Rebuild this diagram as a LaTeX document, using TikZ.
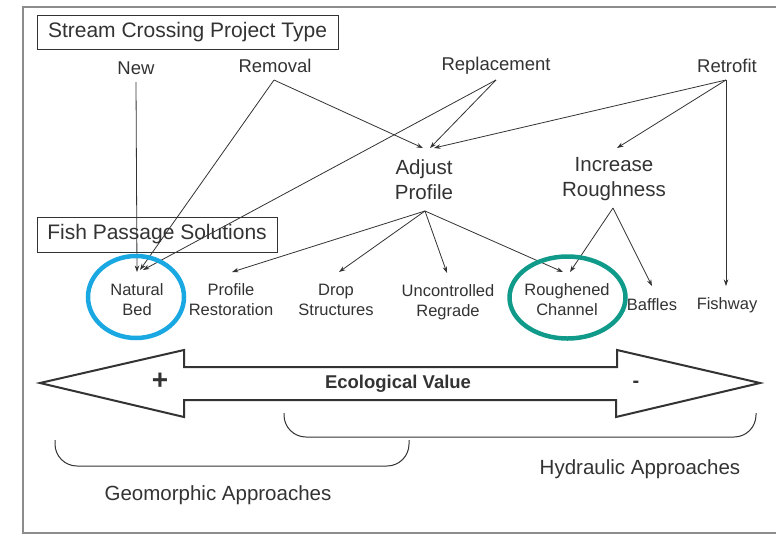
\documentclass[tikz,border=0pt]{standalone}
\usepackage{fontspec}
\setmainfont{Liberation Sans}
\usetikzlibrary{arrows.meta}
\definecolor{ink}{HTML}{333333}
\definecolor{frame}{HTML}{8C8C8C}
\definecolor{ringblue}{HTML}{1AA8E2}
\definecolor{ringteal}{HTML}{0F9A8A}
\begin{document}
\begin{tikzpicture}[x=1pt,y=-1pt,
  every node/.style={text=ink, inner sep=0pt},
  kind/.style={font=\fontsize{18.5}{20}\selectfont},
  stage/.style={font=\fontsize{20.5}{25}\selectfont, align=center},
  fix/.style={font=\fontsize{16.5}{20}\selectfont, align=center},
  heading/.style={draw=ink, line width=0.9pt, font=\fontsize{21}{24}\selectfont},
  link/.style={draw=ink, line width=0.8pt, -{Stealth[length=6.5pt,width=4.5pt]}},
  ring/.style={line width=4.5pt},
  approach/.style={font=\fontsize{20.5}{24}\selectfont}
]
\useasboundingbox (0,0) rectangle (776,536);
\fill[white] (0,0) rectangle (776,536);

% outer frame
\draw[frame, line width=1.6pt] (780,7) -- (23,7) -- (23,533) -- (780,533);

% headings
\node[heading, minimum width=301pt, minimum height=34pt] (hdtop) at (187.5,32) {Stream Crossing Project Type};
\node[heading, minimum width=240pt, minimum height=35pt] (hdfish) at (157,234.5) {Fish Passage Solutions};

% project types
\node[kind] (new) at (136,68) {New};
\node[kind] (rem) at (275,66) {Removal};
\node[kind] (rep) at (496,66) {Replacement};
\node[kind] (ret) at (727,66) {Retrofit};

% intermediate measures
\node[stage] (adj) at (424,179.5) {Adjust\\Profile};
\node[stage] (inc) at (614,179.5) {Increase\\Roughness};

% solutions
\node[fix] (nat) at (137,300) {Natural\\Bed};
\node[fix] (pro) at (231,300) {Profile\\Restoration};
\node[fix] (drop) at (336,300) {Drop\\Structures};
\node[fix] (unc) at (448,302) {Uncontrolled\\Regrade};
\node[fix] (rough) at (567,300) {Roughened\\Channel};
\node[fix] (baf) at (652,305) {Baffles};
\node[fix] (fish) at (727,305) {Fishway};

% connector anchor points
\coordinate (newO) at (136,82);
\coordinate (remO) at (274,80);
\coordinate (repO) at (496,80);
\coordinate (retO) at (726,80);
\coordinate (adjI1) at (423,148);
\coordinate (adjI2) at (430,148);
\coordinate (adjI3) at (434,148);
\coordinate (incI) at (617,148);
\coordinate (adjO) at (425,211);
\coordinate (incO) at (613,208);
\coordinate (natI1) at (137,272);
\coordinate (natI2) at (140,270);
\coordinate (natI3) at (143,270);
\coordinate (proI) at (232,272);
\coordinate (dropI) at (339,272);
\coordinate (uncI) at (447,273);
\coordinate (roughI1) at (563,272);
\coordinate (roughI2) at (570,272);
\coordinate (bafI) at (652,286);
\coordinate (fishI) at (726,286);

% connectors from project types
\draw[link] (newO) -- (natI1);
\draw[link] (remO) -- (natI2);
\draw[link] (remO) -- (adjI1);
\draw[link] (repO) -- (adjI2);
\draw[link] (repO) -- (natI3);
\draw[link] (retO) -- (adjI3);
\draw[link] (retO) -- (incI);
\draw[link] (retO) -- (fishI);

% connectors to solutions
\draw[link] (adjO) -- (proI);
\draw[link] (adjO) -- (dropI);
\draw[link] (adjO) -- (uncI);
\draw[link] (adjO) -- (roughI1);
\draw[link] (incO) -- (roughI2);
\draw[link] (incO) -- (bafI);

% highlight rings
\draw[ringblue, ring] (136,297) ellipse [x radius=48pt, y radius=41pt];
\draw[ringteal, ring] (567.5,297.5) ellipse [x radius=58pt, y radius=41pt];

% ecological value double arrow
\draw[ink, line width=2pt, line join=miter] (40,383) -- (184,350) -- (184,367) -- (617,367) -- (617,350)
  -- (760,383) -- (616,417) -- (616,400) -- (184,400) -- (184,417) -- cycle;
\node[font=\fontsize{28}{28}\selectfont\bfseries] (plus) at (160,381) {+};
\node[font=\fontsize{18.5}{20}\selectfont\bfseries] (eco) at (398,384) {Ecological Value};
\node[font=\fontsize{20}{20}\selectfont\bfseries] (minus) at (636,384) {-};

% approach brackets
\draw[ink, line width=1pt, rounded corners=22pt] (284,413) -- (284,437) -- (756,437) -- (756,413);
\draw[ink, line width=1pt, rounded corners=22pt] (55,440) -- (55,466) -- (409,466) -- (409,440);
\node[approach] (hyd) at (640,469) {Hydraulic Approaches};
\node[approach] (geo) at (218,495) {Geomorphic Approaches};
\end{tikzpicture}
\end{document}
